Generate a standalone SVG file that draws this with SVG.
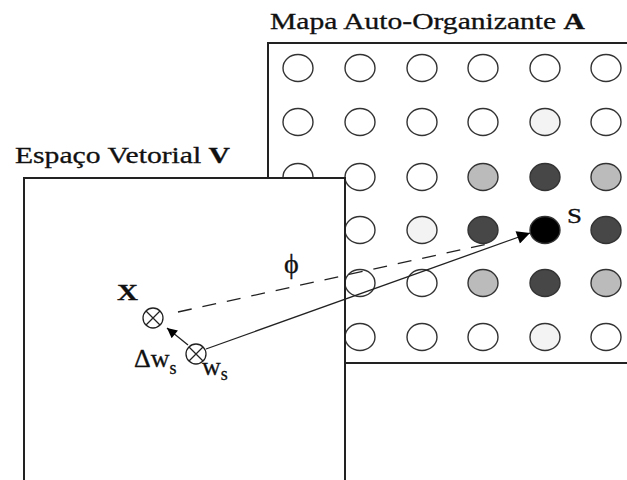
<svg xmlns="http://www.w3.org/2000/svg" width="627" height="480" viewBox="0 0 627 480">
  <style>
    .panel { fill: #ffffff; stroke: #222222; stroke-width: 2; }
    text { font-family: "Liberation Serif", "DejaVu Serif", "Noto Serif", serif; fill: #111111; stroke: #111111; stroke-width: 0.3; }
    .title { font-size: 23px; }
    .neuron { stroke: #333333; stroke-width: 1.4; }
    .n0 { fill: #ffffff; }
    .n1 { fill: #f3f3f3; }
    .n2 { fill: #bbbbbb; }
    .n3 { fill: #474747; }
    .n4 { fill: #000000; }
    .vec { fill: #ffffff; stroke: #222222; stroke-width: 1.3; }
    .edge { fill: none; stroke: #222222; stroke-width: 1.3; }
    .dash { stroke-dasharray: 14 11; }
  </style>
  <defs>
    <marker id="head" viewBox="0 0 10 10" refX="10" refY="5" markerWidth="22" markerHeight="13" markerUnits="userSpaceOnUse" orient="auto">
      <path d="M0,0 L10,5 L0,10 Z" fill="#000000"/>
    </marker>
    <marker id="headSmall" viewBox="0 0 10 10" refX="10" refY="5" markerWidth="12" markerHeight="10" markerUnits="userSpaceOnUse" orient="auto">
      <path d="M0,0 L10,5 L0,10 Z" fill="#000000"/>
    </marker>
  </defs>

  <!-- Self-organizing map A: lattice of neurons -->
  <g id="map-A">
    <rect class="panel" x="268" y="43" width="380" height="320"/>
    <text class="title" x="270" y="29" textLength="315" lengthAdjust="spacingAndGlyphs">Mapa Auto-Organizante <tspan font-weight="bold">A</tspan></text>
    <g id="neurons">
      <!-- row 1 -->
      <ellipse class="neuron n0" cx="298" cy="68" rx="15" ry="13.5"/>
      <ellipse class="neuron n0" cx="360" cy="68" rx="15" ry="13.5"/>
      <ellipse class="neuron n0" cx="422" cy="68" rx="15" ry="13.5"/>
      <ellipse class="neuron n0" cx="483" cy="68" rx="15" ry="13.5"/>
      <ellipse class="neuron n0" cx="545" cy="68" rx="15" ry="13.5"/>
      <ellipse class="neuron n0" cx="606" cy="68" rx="15" ry="13.5"/>
      <!-- row 2 -->
      <ellipse class="neuron n0" cx="298" cy="122" rx="15" ry="13.5"/>
      <ellipse class="neuron n0" cx="360" cy="122" rx="15" ry="13.5"/>
      <ellipse class="neuron n0" cx="422" cy="122" rx="15" ry="13.5"/>
      <ellipse class="neuron n0" cx="483" cy="122" rx="15" ry="13.5"/>
      <ellipse class="neuron n1" cx="545" cy="122" rx="15" ry="13.5"/>
      <ellipse class="neuron n0" cx="606" cy="122" rx="15" ry="13.5"/>
      <!-- row 3 -->
      <ellipse class="neuron n0" cx="298" cy="177" rx="15" ry="13.5"/>
      <ellipse class="neuron n0" cx="360" cy="177" rx="15" ry="13.5"/>
      <ellipse class="neuron n0" cx="422" cy="177" rx="15" ry="13.5"/>
      <ellipse class="neuron n2" cx="483" cy="177" rx="15" ry="13.5"/>
      <ellipse class="neuron n3" cx="545" cy="177" rx="15" ry="13.5"/>
      <ellipse class="neuron n2" cx="606" cy="177" rx="15" ry="13.5"/>
      <!-- row 4 -->
      <ellipse class="neuron n0" cx="298" cy="230" rx="15" ry="13.5"/>
      <ellipse class="neuron n0" cx="360" cy="230" rx="15" ry="13.5"/>
      <ellipse class="neuron n1" cx="422" cy="230" rx="15" ry="13.5"/>
      <ellipse class="neuron n3" cx="483" cy="230" rx="15" ry="13.5"/>
      <ellipse class="neuron n3" cx="606" cy="230" rx="15" ry="13.5"/>
      <!-- row 5 -->
      <ellipse class="neuron n0" cx="298" cy="283" rx="15" ry="13.5"/>
      <ellipse class="neuron n0" cx="360" cy="283" rx="15" ry="13.5"/>
      <ellipse class="neuron n0" cx="422" cy="283" rx="15" ry="13.5"/>
      <ellipse class="neuron n2" cx="483" cy="283" rx="15" ry="13.5"/>
      <ellipse class="neuron n3" cx="545" cy="283" rx="15" ry="13.5"/>
      <ellipse class="neuron n2" cx="606" cy="283" rx="15" ry="13.5"/>
      <!-- row 6 -->
      <ellipse class="neuron n0" cx="298" cy="337" rx="15" ry="13.5"/>
      <ellipse class="neuron n0" cx="360" cy="337" rx="15" ry="13.5"/>
      <ellipse class="neuron n0" cx="422" cy="337" rx="15" ry="13.5"/>
      <ellipse class="neuron n0" cx="483" cy="337" rx="15" ry="13.5"/>
      <ellipse class="neuron n1" cx="545" cy="337" rx="15" ry="13.5"/>
      <ellipse class="neuron n0" cx="606" cy="337" rx="15" ry="13.5"/>
    </g>
  </g>

  <!-- Winning neuron s -->
  <g id="winner-s">
    <ellipse class="neuron n4" cx="545" cy="230" rx="15" ry="13.5"/>
    <text x="567" y="223" font-size="22" textLength="15" lengthAdjust="spacingAndGlyphs">S</text>
  </g>

  <!-- Vector space V (drawn over the map) -->
  <g id="space-V">
    <rect class="panel" x="24" y="178" width="321" height="320"/>
    <text class="title" x="15" y="163" textLength="215" lengthAdjust="spacingAndGlyphs">Espaço Vetorial <tspan font-weight="bold">V</tspan></text>
  </g>

  <!-- Connectors -->
  <g id="connectors">
    <line class="edge dash" x1="178" y1="312" x2="492" y2="243"/>
    <line class="edge" x1="206" y1="349" x2="530" y2="233" marker-end="url(#head)"/>
    <line class="edge" x1="188" y1="345" x2="167" y2="328" marker-end="url(#headSmall)"/>
  </g>

  <!-- Input vector x -->
  <g id="input-x">
    <circle class="vec" cx="153" cy="318" r="10"/>
    <path class="edge" d="M146,311 L160,325 M160,311 L146,325"/>
    <text x="117" y="300" font-size="24" font-weight="bold" textLength="21" lengthAdjust="spacingAndGlyphs">X</text>
  </g>

  <!-- Weight vector w_s and its update -->
  <g id="weight-ws">
    <circle class="vec" cx="196" cy="354" r="10"/>
    <path class="edge" d="M189,347 L203,361 M203,347 L189,361"/>
    <text x="134" y="367" font-size="26">Δw<tspan font-size="18" dy="7">s</tspan></text>
    <text x="202" y="375" font-size="26">w<tspan font-size="18" dy="5">s</tspan></text>
  </g>

  <!-- Angle label -->
  <text x="284" y="273" font-size="28">ϕ</text>
</svg>
